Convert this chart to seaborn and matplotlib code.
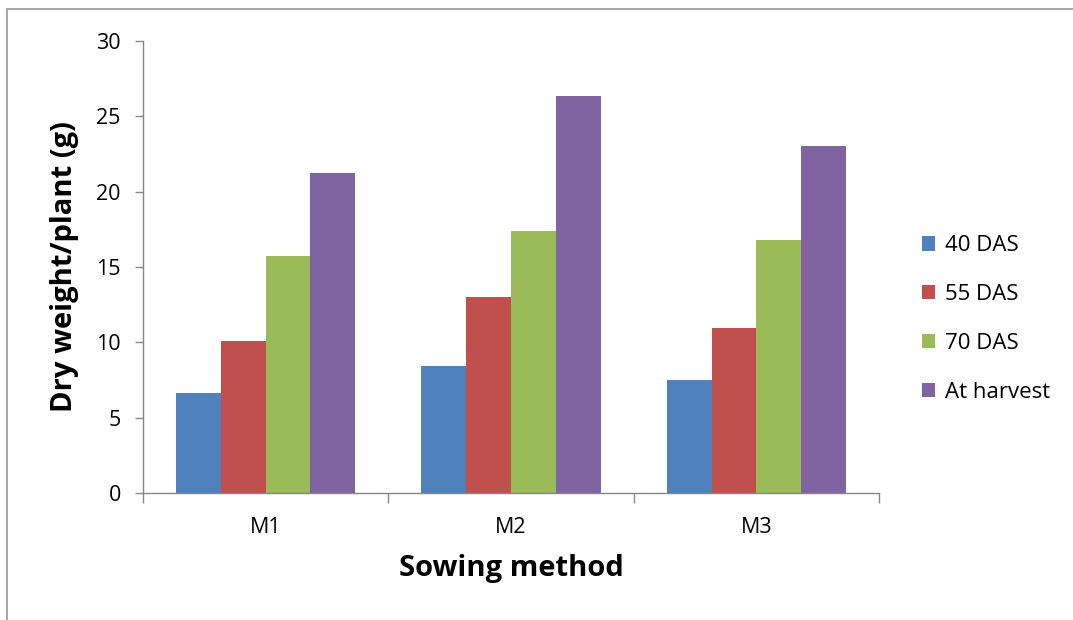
import matplotlib.pyplot as plt
import matplotlib.patches as patches
import seaborn as sns
import pandas as pd

# values
methods = ['M1', 'M2', 'M3']
stages = ['40 DAS', '55 DAS', '70 DAS', 'At harvest']
das40 = [6.65, 8.45, 7.5]
das55 = [10.1, 13.0, 10.97]
das70 = [15.7, 17.4, 16.8]
harvest = [21.25, 26.35, 23.05]
colors = ['#4F81BD', '#C0504D', '#9BBB59', '#8064A2']

rows = []
for stage, vals in zip(stages, [das40, das55, das70, harvest]):
    for m, v in zip(methods, vals):
        rows.append({'method': m, 'stage': stage, 'weight': v})
df = pd.DataFrame(rows)

sns.set_theme(style='white')
plt.rcParams['font.family'] = ['Open Sans', 'DejaVu Sans']
plt.rcParams['text.color'] = 'black'
plt.rcParams['axes.labelcolor'] = 'black'
plt.rcParams['xtick.labelcolor'] = 'black'
plt.rcParams['ytick.labelcolor'] = 'black'

fig = plt.figure(figsize=(10.73, 6.2), dpi=100)
ax = fig.add_axes([143 / 1073, 1 - 493 / 620, (879 - 143) / 1073, (493 - 41) / 620])

sns.barplot(data=df, x='method', y='weight', hue='stage', order=methods, hue_order=stages,
            palette=colors, width=0.73, gap=0, linewidth=0, saturation=1, ax=ax)

ax.set_ylim(0, 30)
ax.set_xlim(-0.5, 2.5)
ax.set_yticks(range(0, 31, 5))
ax.set_xticks([-0.5, 0.5, 1.5, 2.5], minor=False)
ax.set_xticklabels([])
ax.set_xticks([0, 1, 2], minor=True)
ax.set_xticklabels(methods, minor=True)
ax.tick_params(axis='x', which='major', length=7, width=1, color='#868686', direction='out', bottom=True)
ax.tick_params(axis='x', which='minor', length=0, pad=17, labelsize=15.5)
ax.tick_params(axis='y', length=6, width=1, color='#868686', direction='out', left=True, labelsize=15.5, pad=10)

for s in ['top', 'right']:
    ax.spines[s].set_visible(False)
for s in ['left', 'bottom']:
    ax.spines[s].set_color('#868686')
    ax.spines[s].set_linewidth(1)

ax.set_xlabel('Sowing method', fontsize=21, fontweight='bold', labelpad=12)
ax.set_ylabel('Dry weight/plant (g)', fontsize=21, fontweight='bold', labelpad=12)

ax.legend(loc='center left', bbox_to_anchor=(1.058, 0.385), frameon=False, fontsize=16,
          handlelength=0.6, handleheight=0.6, handletextpad=0.45, labelspacing=1.25,
          borderpad=0, borderaxespad=0)

# outer chart border
top = 1 - 9 / 620
fig.patches.append(patches.Rectangle((7 / 1073, -0.05), 1.1, top + 0.05,
                                     transform=fig.transFigure, fill=False,
                                     edgecolor='#9a9a9a', linewidth=1.2))

fig.savefig('out.png', dpi=100)
